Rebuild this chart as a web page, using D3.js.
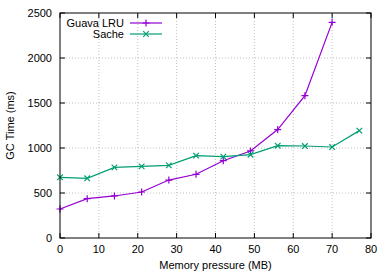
<!DOCTYPE html>
<html>
<head>
<meta charset="utf-8">
<script src="https://cdn.jsdelivr.net/npm/d3@7"></script>
<style>
    body { margin: 0; background: #fff; }
    text { font-family: "Liberation Sans", Arial, sans-serif; font-size: 11px; fill: #000; }
</style>
</head>
<body>
<svg class="chart"></svg>
<script>
const pressure = [0, 7, 14, 21, 28, 35, 42, 49, 56, 63, 70, 77];
const guavaLru = [322, 437, 467, 511, 644, 708, 859, 967, 1205, 1581, 2396];
const sache = [674, 663, 785, 796, 807, 915, 904, 926, 1026, 1022, 1011, 1193];
const xTicks = [0, 10, 20, 30, 40, 50, 60, 70, 80];
const yTicks = [0, 500, 1000, 1500, 2000, 2500];
const seriesNames = ["Guava LRU", "Sache"];

(function () {
    const width = 390, height = 273;
    const margin = { left: 60, top: 13, right: 19, bottom: 35 };
    const colours = ["#9400d3", "#009e73"];

    let svg = d3.select("svg.chart").attr("width", width).attr("height", height);

    let x = d3.scaleLinear().domain([0, 80]).range([margin.left, width - margin.right]);
    let y = d3.scaleLinear().domain([0, 2500]).range([height - margin.bottom, margin.top]);

    // grid
    let grid = svg.append("g")
        .attr("stroke", "#b0b0b0")
        .attr("stroke-width", 0.8)
        .attr("stroke-dasharray", "1,2");
    xTicks.slice(1, -1).forEach(function (t) {
        grid.append("line").attr("x1", x(t)).attr("x2", x(t)).attr("y1", y(0)).attr("y2", y(2500));
    });
    yTicks.slice(1, -1).forEach(function (t) {
        grid.append("line").attr("x1", x(0)).attr("x2", x(80)).attr("y1", y(t)).attr("y2", y(t));
    });

    // ticks, inward on all sides
    let ticks = svg.append("g").attr("stroke", "#000").attr("stroke-width", 1);
    xTicks.forEach(function (t) {
        ticks.append("line").attr("x1", x(t)).attr("x2", x(t)).attr("y1", y(0)).attr("y2", y(0) - 5);
        ticks.append("line").attr("x1", x(t)).attr("x2", x(t)).attr("y1", y(2500)).attr("y2", y(2500) + 5);
    });
    yTicks.forEach(function (t) {
        ticks.append("line").attr("x1", x(0)).attr("x2", x(0) + 5).attr("y1", y(t)).attr("y2", y(t));
        ticks.append("line").attr("x1", x(80)).attr("x2", x(80) - 5).attr("y1", y(t)).attr("y2", y(t));
    });

    svg.selectAll(".xlab").data(xTicks).enter().append("text")
        .attr("x", function (d) { return x(d); })
        .attr("y", y(0) + 15)
        .attr("text-anchor", "middle")
        .text(function (d) { return d; });

    svg.selectAll(".ylab").data(yTicks).enter().append("text")
        .attr("x", x(0) - 8)
        .attr("y", function (d) { return y(d) + 4; })
        .attr("text-anchor", "end")
        .text(function (d) { return d; });

    svg.append("text")
        .attr("x", (x(0) + x(80)) / 2)
        .attr("y", 269)
        .attr("text-anchor", "middle")
        .text("Memory pressure (MB)");

    svg.append("text")
        .attr("transform", "translate(14," + (y(1250)) + ") rotate(-90)")
        .attr("text-anchor", "middle")
        .text("GC Time (ms)");

    // series
    const allSeries = [guavaLru, sache];
    let line = d3.line()
        .x(function (d, i) { return x(pressure[i]); })
        .y(function (d) { return y(d); });

    function marker(g, type, cx, cy, colour) {
        const s = 3.5;
        let p = type == 0
            ? "M" + (cx - s) + "," + cy + "H" + (cx + s) + "M" + cx + "," + (cy - s) + "V" + (cy + s)
            : "M" + (cx - s * 0.8) + "," + (cy - s * 0.8) + "L" + (cx + s * 0.8) + "," + (cy + s * 0.8)
              + "M" + (cx - s * 0.8) + "," + (cy + s * 0.8) + "L" + (cx + s * 0.8) + "," + (cy - s * 0.8);
        g.append("path").attr("d", p).attr("stroke", colour).attr("stroke-width", 1.2).attr("fill", "none");
    }

    allSeries.forEach(function (vals, k) {
        svg.append("path")
            .datum(vals)
            .attr("fill", "none")
            .attr("stroke", colours[k])
            .attr("stroke-width", 1.2)
            .attr("d", line);
        let g = svg.append("g");
        vals.forEach(function (v, i) { marker(g, k, x(pressure[i]), y(v), colours[k]); });
    });

    // legend
    seriesNames.forEach(function (name, k) {
        const ly = 23 + k * 11;
        svg.append("text").attr("x", 124).attr("y", ly + 4).attr("text-anchor", "end").text(name);
        svg.append("line").attr("x1", 130).attr("x2", 162).attr("y1", ly).attr("y2", ly)
            .attr("stroke", colours[k]).attr("stroke-width", 1.2);
        marker(svg, k, 146, ly, colours[k]);
    });

    // border
    svg.append("rect")
        .attr("x", x(0)).attr("y", y(2500))
        .attr("width", x(80) - x(0)).attr("height", y(0) - y(2500))
        .attr("fill", "none").attr("stroke", "#000").attr("stroke-width", 1);
}());
</script>
</body>
</html>
